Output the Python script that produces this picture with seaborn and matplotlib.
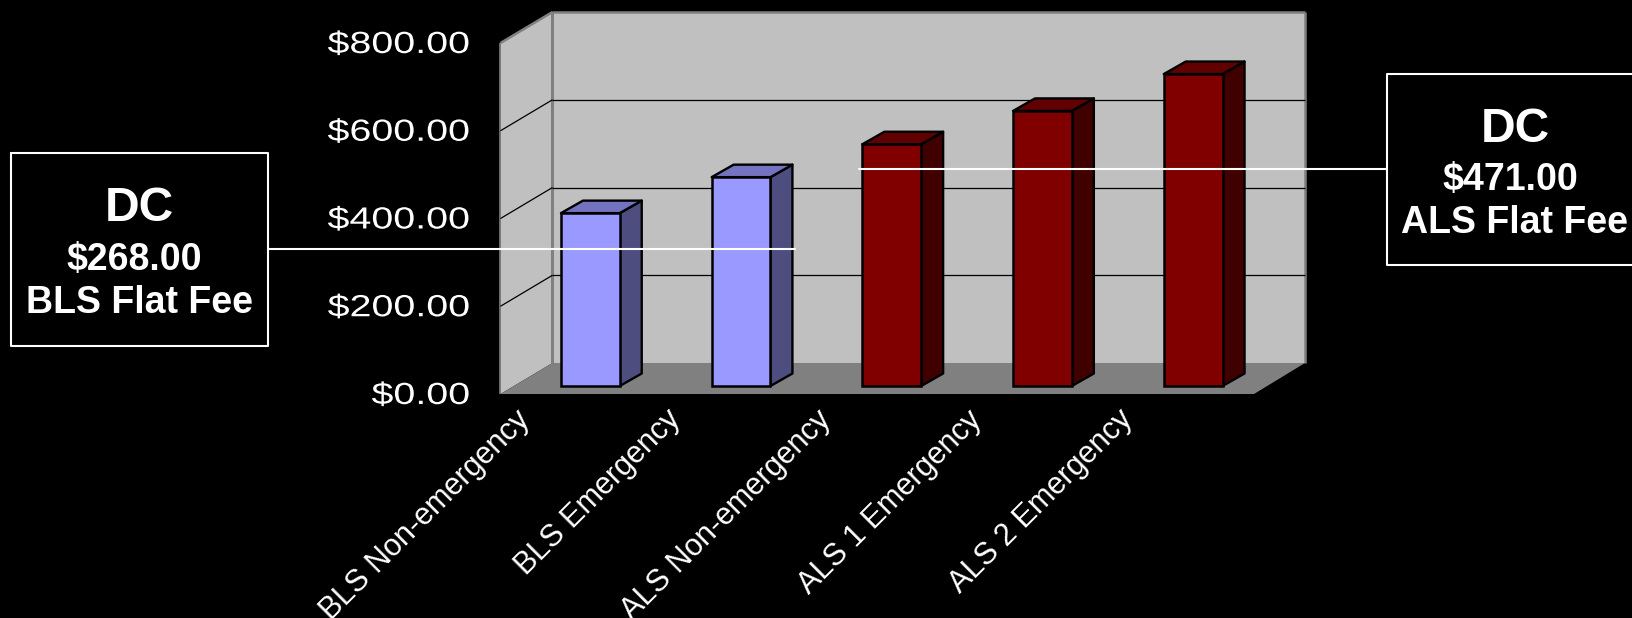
import matplotlib
matplotlib.use("Agg")
import matplotlib.pyplot as plt
import matplotlib.patheffects as pe
from matplotlib.patches import Polygon, Rectangle
from matplotlib.lines import Line2D
from matplotlib.transforms import Affine2D, IdentityTransform
import numpy as np
import pandas as pd
import seaborn as sns

# Ambulance fee schedule
services = ["BLS Non-emergency", "BLS Emergency", "ALS Non-emergency",
            "ALS 1 Emergency", "ALS 2 Emergency"]
fees = [394, 476, 551, 627, 711]
tiers = ["BLS", "BLS", "ALS", "ALS", "ALS"]
tier_colors = {"BLS": "#9999FF", "ALS": "#800000"}
value_ticks = [0, 200, 400, 600, 800]

W, H = 1633, 618
DEPTH = np.array([52.0, 31.0])      # receding offset of the chart box, px
BAR_DEPTH = np.array([22.0, 12.5])  # depth of each column, px
BAR_SHIFT = np.array([14.5, 8.0])   # columns sit mid-way into the box, px


class Stretch(pe.AbstractPathEffect):
    """Widen glyphs along the baseline, keeping one end of the string fixed."""

    def __init__(self, sx, anchor="center"):
        super().__init__()
        self.sx, self.anchor = sx, anchor

    def draw_path(self, renderer, gc, tpath, affine, rgbFace=None):
        box = tpath.get_extents()
        pivot = {"left": box.x0, "right": box.x1,
                 "center": (box.x0 + box.x1) / 2}[self.anchor]
        stretch = Affine2D().translate(-pivot, 0).scale(self.sx, 1).translate(pivot, 0)
        renderer.draw_path(gc, tpath, stretch + affine, rgbFace)


sns.set_theme(style="dark")
plt.rcParams["font.family"] = ["Liberation Sans", "DejaVu Sans"]
plt.rcParams["figure.facecolor"] = "black"

fig = plt.figure(figsize=(W / 100, H / 100), dpi=100, facecolor="black")
ax = fig.add_axes([500.5 / W, (H - 394) / H, 753.5 / W, 351 / H])

df = pd.DataFrame({"service": services, "fee": fees, "tier": tiers})
sns.barplot(data=df, x="service", y="fee", hue="tier", palette=tier_colors,
            order=services, dodge=False, width=0.39, saturation=1,
            edgecolor="black", linewidth=1.8, legend=False, ax=ax, zorder=4)

ax.set_xlim(-0.5, 4.5)
ax.set_ylim(0, 800)
ax.patch.set_visible(False)
ax.set_xlabel("")
ax.set_ylabel("")
for spine in ax.spines.values():
    spine.set_visible(False)
ax.grid(False)


def project(x, value, shift=(0, 0)):
    return ax.transData.transform((x, value)) + np.asarray(shift)


def face(points, color, zorder, **kw):
    ax.add_patch(Polygon(points, closed=True, facecolor=color, zorder=zorder,
                         transform=IdentityTransform(), clip_on=False, **kw))


def rule(a, b, color, lw, zorder):
    ax.add_line(Line2D([a[0], b[0]], [a[1], b[1]], color=color, lw=lw, zorder=zorder,
                       transform=IdentityTransform(), clip_on=False,
                       solid_capstyle="butt"))


# Chart box: back wall, left wall and floor
x0, x1 = ax.get_xlim()
top = value_ticks[-1]
inset = DEPTH - (1.0, 0)
face([project(x0, 0, DEPTH), project(x1, 0, inset), project(x1, top, inset), project(x0, top, DEPTH)],
     "#C0C0C0", 1, edgecolor="none")
face([project(x0, 0), project(x0, 0, DEPTH), project(x0, top, DEPTH), project(x0, top)],
     "#C0C0C0", 1, edgecolor="none")
face([project(x0, 0), project(x1, 0), project(x1, 0, inset), project(x0, 0, DEPTH)],
     "#808080", 1, edgecolor="none")

rule(project(x0, 0, DEPTH), project(x0, top, DEPTH), "#808080", 2.2, 2)
rule(project(x1, 0, inset), project(x1, top, inset), "#808080", 1.8, 2)
rule(project(x0, top, DEPTH), project(x1, top, inset), "#808080", 1.8, 2)
rule(project(x0, top), project(x0, top, DEPTH), "#808080", 1.8, 2)
rule(project(x0, 0), project(x0, top), "#808080", 1.2, 2)

for v in value_ticks[1:-1]:
    rule(project(x0, v), project(x0, v, DEPTH), "black", 0.9, 2)
    rule(project(x0, v, DEPTH), project(x1, v, inset), "black", 0.9, 2)

# Columns: fronts come from the bar chart, tops and sides are derived from them
shift_tf = Affine2D().translate(*BAR_SHIFT)
for bar in ax.patches[:]:
    if not isinstance(bar, Rectangle):
        continue
    left, right = bar.get_x(), bar.get_x() + bar.get_width()
    height = bar.get_height()
    front = np.array(bar.get_facecolor()[:3])
    bar.set_transform(ax.transData + shift_tf)
    bar.set_clip_on(False)
    s0, s1 = BAR_SHIFT, BAR_SHIFT + BAR_DEPTH
    face([project(right, 0, s0), project(right, 0, s1), project(right, height, s1), project(right, height, s0)],
         tuple(front * 0.5), 3, edgecolor="black", linewidth=1.7, joinstyle="round")
    face([project(left, height, s0), project(right, height, s0), project(right, height, s1), project(left, height, s1)],
         tuple(front * 0.75), 3, edgecolor="black", linewidth=1.7, joinstyle="round")

# Axis labels
ax.set_yticks(value_ticks)
ax.set_yticklabels([f"${v:.2f}" for v in value_ticks], color="white", fontsize=22)
ax.tick_params(axis="y", length=0, pad=22)
value_shift = Affine2D().translate(0, 1.5)
for lab in ax.get_yticklabels():
    lab.set_transform(lab.get_transform() + value_shift)
    lab.set_path_effects([Stretch(1.29, "right")])

label_shift = Affine2D().translate(-61, 9)
ax.set_xticks(range(len(services)))
ax.set_xticklabels(services, color="white", fontsize=22, rotation=45,
                   ha="right", va="top", rotation_mode="anchor")
ax.tick_params(axis="x", length=0, pad=14)
for lab in ax.get_xticklabels():
    lab.set_transform(lab.get_transform() + label_shift)


# Callout boxes, placed in pixel space of the figure
def fx(px):
    return px / W


def fy(py):
    return 1 - py / H


def callout(x_left, x_right, y_top, y_bottom, lines, connector):
    if x_right < W:
        px = [x_left, x_right, x_right, x_left, x_left]
        py = [y_top, y_top, y_bottom, y_bottom, y_top]
    else:
        px = [W, x_left, x_left, W]
        py = [y_top, y_top, y_bottom, y_bottom]
    fig.add_artist(Line2D([fx(p) for p in px], [fy(p) for p in py], color="white", lw=1.5, zorder=8))
    (cx0, cx1, cy) = connector
    fig.add_artist(Line2D([fx(cx0), fx(cx1)], [fy(cy), fy(cy)], color="white", lw=1.5, zorder=8))
    for text, size, tx, ty in lines:
        fig.text(fx(tx), fy(ty), text, color="white", fontsize=size, fontweight="bold",
                 ha="center", va="center", zorder=9)


callout(11, 268, 153, 346,
        [("DC", 34.5, 139.5, 209), ("$268.00", 27, 134.5, 260), ("BLS Flat Fee", 27, 139.5, 303)],
        (268, 795, 249))
callout(1387, W + 10, 73.5, 265.5,
        [("DC", 34.5, 1515, 129), ("$471.00", 27, 1510, 180), ("ALS Flat Fee", 27, 1515, 223)],
        (859, 1387, 169))

fig.savefig("out.png", dpi=100, facecolor="black")
